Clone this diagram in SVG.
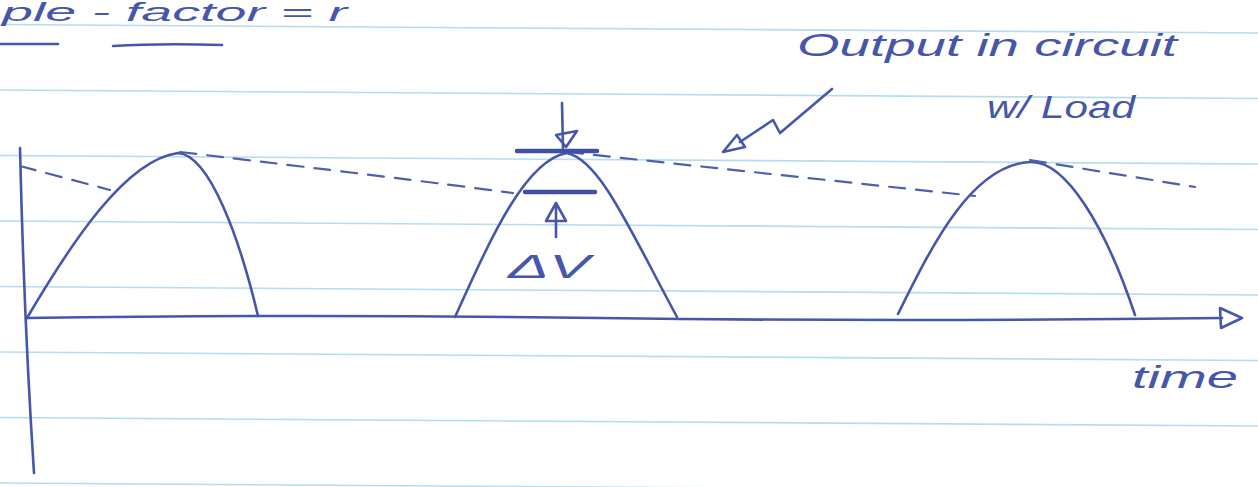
<svg xmlns="http://www.w3.org/2000/svg" width="1258" height="487" viewBox="0 0 1258 487">
<style>
.rule{stroke:#b6dcef;stroke-width:1.6;fill:none}
.ink{stroke:#4656ab;stroke-width:2.6;fill:none;stroke-linecap:round;stroke-linejoin:round}
.thick{stroke:#3f4fa6;stroke-width:4.5;fill:none;stroke-linecap:round}
.dash{stroke:#4f5fae;stroke-width:2.2;fill:none;stroke-dasharray:16 11;stroke-linecap:round}
.hand{font-family:"Liberation Sans",Arial,sans-serif;font-style:italic;fill:#4656ab}
</style>
<rect width="1258" height="487" fill="#ffffff"/>
<g id="paper">
<path class="rule" d="M0,24.5 L1258,33"/>
<path class="rule" d="M0,90 L1258,98.5"/>
<path class="rule" d="M0,155.5 L1258,164"/>
<path class="rule" d="M0,221 L1258,229.5"/>
<path class="rule" d="M0,286.5 L1258,295"/>
<path class="rule" d="M0,352 L1258,360.5"/>
<path class="rule" d="M0,417.5 L1258,426"/>
<path class="rule" d="M0,483 L1258,491.5"/>
</g>
<g id="title">
<text class="hand" x="2" y="21" font-size="25" textLength="345" lengthAdjust="spacingAndGlyphs">ple - factor = r</text>
<path class="ink" d="M0,44 L58,44"/>
<path class="ink" d="M113,46 Q160,43 222,45"/>
</g>
<g id="axes">
<path class="ink" d="M20,148 Q24,320 34,473"/>
<path class="ink" d="M26,318 Q300,314 600,318 T1222,318"/>
<path class="ink" d="M1220,308 L1242,318 L1221,328 Z"/>
</g>
<g id="hump1">
<path class="ink" d="M27,318 C70,245 125,160 178,153 C210,155 240,240 258,316"/>
</g>
<g id="hump2">
<path class="ink" d="M455,317 C490,240 525,160 567,153 C600,160 630,230 677,317"/>
</g>
<g id="hump3">
<path class="ink" d="M898,314 C930,250 970,165 1030,162 C1065,160 1105,225 1135,315"/>
</g>
<g id="connectors">
<path class="dash" d="M20,166 L110,190"/>
<path class="dash" d="M180,152 Q400,178 513,193"/>
<path class="dash" d="M567,152 L975,196"/>
<path class="dash" d="M1030,160 L1195,187"/>
<path class="ink" d="M832,89 L780,133 L773,120 L740,142"/>
<path class="ink" d="M723,152 L737,135 L745,147 Z"/>
</g>
<g id="ripple-label">
<path class="thick" d="M517,151 L597,151"/>
<path class="ink" d="M562,103 L563,148"/>
<path class="ink" d="M556,135 L577,131 L566,147 Z"/>
<path class="thick" d="M525,192 L595,192"/>
<path class="ink" d="M556,203 L546,221 L566,221 Z"/>
<path class="ink" d="M556,206 L556,237"/>
<text class="hand" x="508" y="278" font-size="34" font-style="normal" textLength="82" lengthAdjust="spacingAndGlyphs">ΔV</text>
</g>
<g id="output-label">
<text class="hand" x="797" y="56" font-size="32" textLength="380" lengthAdjust="spacingAndGlyphs">Output in circuit</text>
<text class="hand" x="987" y="118" font-size="32" textLength="148" lengthAdjust="spacingAndGlyphs">w/ Load</text>
</g>
<g id="time-label">
<text class="hand" x="1132" y="388" font-size="32" textLength="106" lengthAdjust="spacingAndGlyphs">time</text>
</g>
</svg>
